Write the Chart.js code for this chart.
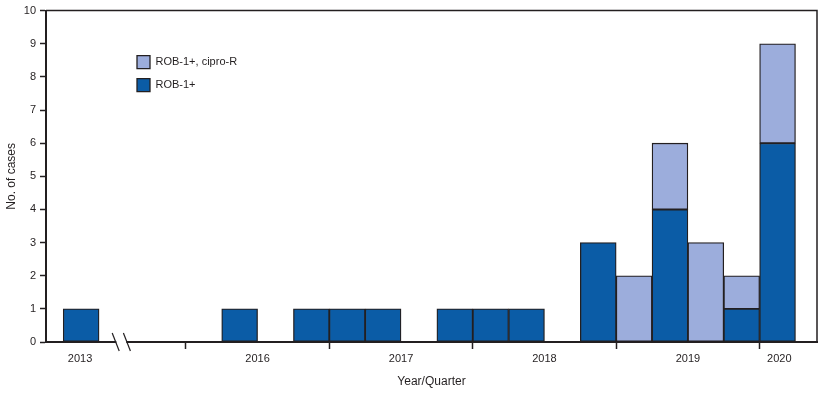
<!DOCTYPE html>
<html>
<head>
<meta charset="utf-8">
<script src="https://cdn.jsdelivr.net/npm/chart.js@4.4.0/dist/chart.umd.min.js"></script>
<style>
    html, body { margin: 0; padding: 0; background: #fff; }
    #wrap { width: 823px; height: 394px; }
</style>
</head>
<body>
<div id="wrap"><canvas id="casesChart"></canvas></div>
<script>
// Quarters that had cases. Axis value = quarters counted from the start of 2016;
// 2013 sits to the left of the axis break.
const quarters = ['2013', '2016 Q2', '2016 Q4', '2017 Q1', '2017 Q2', '2017 Q4', '2018 Q1', '2018 Q2',
                  '2018 Q4', '2019 Q1', '2019 Q2', '2019 Q3', '2019 Q4', '2020 Q1'];
const quarterPos = [-2.92, 1.5, 3.5, 4.5, 5.5, 7.5, 8.5, 9.5, 11.5, 12.5, 13.5, 14.5, 15.5, 16.5];
const robCases = [1, 1, 1, 1, 1, 1, 1, 1, 3, 0, 4, 0, 1, 6];
const ciproCases = [0, 0, 0, 0, 0, 0, 0, 0, 0, 2, 2, 3, 1, 3];

// x axis labels / year boundaries
const yearLabels = ['2013', '2016', '2017', '2018', '2019', '2020'];
const yearLabelPos = [-2.95, 2, 6, 10, 14, 16.55];
const yearBounds = [0, 4, 8, 12, 16];
const axisBreak = -1.8;
const axisMin = -3.9;
const axisMax = 17.6;

const darkBlue = '#0B5CA6';
const lightBlue = '#9CADDC';
const ink = '#231F20';

const toPoints = vals => vals
    .map((v, i) => ({ x: quarterPos[i], y: v }))
    .filter(p => p.y > 0);

// top/right frame, axis break marks and legend placement
const frameAndBreak = {
    id: 'frameAndBreak',
    afterLayout(chart) {
        const a = chart.chartArea;
        if (chart.legend) {
            chart.legend.left = a.left + 81;
            chart.legend.top = a.top + 35;
        }
    },
    afterDraw(chart) {
        const { ctx, chartArea: a, scales } = chart;
        ctx.save();
        ctx.strokeStyle = ink;
        ctx.lineWidth = 1.5;
        ctx.beginPath();
        ctx.moveTo(a.left, a.top);
        ctx.lineTo(a.right, a.top);
        ctx.lineTo(a.right, a.bottom);
        ctx.stroke();

        const bx = scales.x.getPixelForValue(axisBreak);
        ctx.fillStyle = '#fff';
        ctx.fillRect(bx - 5, a.bottom - 2, 10, 4);
        ctx.lineWidth = 1.2;
        [-5.6, 5.6].forEach(dx => {
            ctx.beginPath();
            ctx.moveTo(bx + dx - 3.5, a.bottom - 9);
            ctx.lineTo(bx + dx + 3.5, a.bottom + 9);
            ctx.stroke();
        });
        ctx.restore();
    }
};

const barStyle = {
    borderColor: ink,
    borderWidth: 1.3,
    borderSkipped: false,
    barPercentage: 1,
    categoryPercentage: 1,
    xAxisID: 'x',
    yAxisID: 'y'
};

new Chart(document.getElementById('casesChart'), {
    type: 'bar',
    data: {
        datasets: [
            { label: 'ROB-1+', data: toPoints(robCases), backgroundColor: darkBlue, ...barStyle },
            { label: 'ROB-1+, cipro-R', data: toPoints(ciproCases), backgroundColor: lightBlue, ...barStyle }
        ]
    },
    options: {
        responsive: true,
        maintainAspectRatio: false,
        animation: false,
        layout: { padding: { top: 10, right: 6, left: 0, bottom: 0 } },
        plugins: {
            tooltip: { enabled: false },
            legend: {
                position: 'chartArea',
                align: 'start',
                reverse: true,
                labels: {
                    boxWidth: 13,
                    boxHeight: 13,
                    padding: 10,
                    color: ink,
                    font: { family: 'Liberation Sans', size: 11 }
                }
            }
        },
        scales: {
            x: {
                type: 'linear',
                position: 'bottom',
                stacked: true,
                offset: false,
                min: axisMin,
                max: axisMax,
                weight: 0,
                afterBuildTicks: s => { s.ticks = yearBounds.map(v => ({ value: v })); },
                ticks: { display: false },
                grid: { offset: false, drawOnChartArea: false, drawTicks: true, tickLength: 7, tickColor: ink, tickWidth: 1.5 },
                border: { display: true, color: ink, width: 2 }
            },
            xl: {
                type: 'linear',
                position: 'bottom',
                offset: false,
                min: axisMin,
                max: axisMax,
                weight: 1,
                afterBuildTicks: s => { s.ticks = yearLabelPos.map(v => ({ value: v })); },
                afterFit: s => { s.height = 45; },
                ticks: {
                    autoSkip: false,
                    maxRotation: 0,
                    padding: 3,
                    color: ink,
                    font: { family: 'Liberation Sans', size: 11 },
                    callback: (v, i) => yearLabels[i]
                },
                grid: { display: false, drawTicks: false },
                border: { display: false },
                title: {
                    display: true,
                    text: 'Year/Quarter',
                    color: ink,
                    font: { family: 'Liberation Sans', size: 12 },
                    padding: { top: 0, bottom: 5 }
                }
            },
            y: {
                stacked: true,
                min: 0,
                max: 10,
                afterFit: s => { s.width = 46; },
                ticks: { stepSize: 1, padding: 4, color: ink, font: { family: 'Liberation Sans', size: 11 } },
                grid: { drawOnChartArea: false, tickLength: 6, tickColor: ink, tickWidth: 1.5 },
                border: { color: ink, width: 2 },
                title: {
                    display: true,
                    text: 'No. of cases',
                    color: ink,
                    font: { family: 'Liberation Sans', size: 12 },
                    padding: { top: 4, bottom: 0 }
                }
            }
        }
    },
    plugins: [frameAndBreak]
});
</script>
</body>
</html>
